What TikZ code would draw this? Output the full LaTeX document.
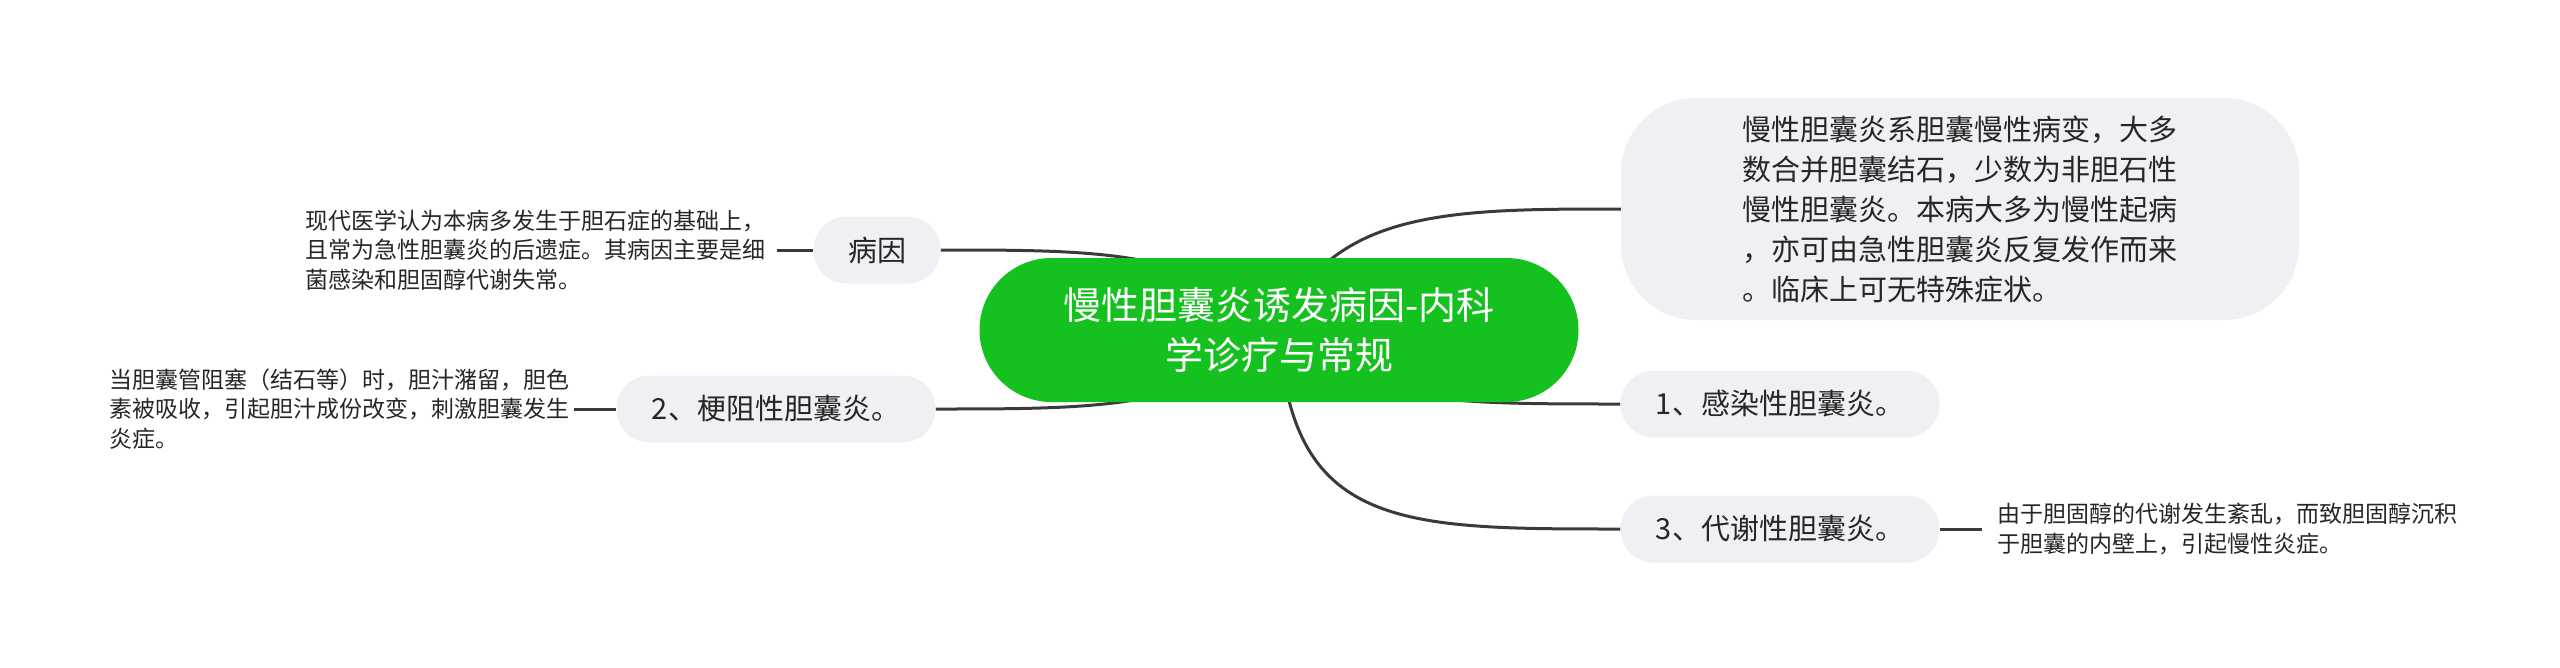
\documentclass[tikz,border=0pt]{standalone}
\usepackage{fontspec}
\setmainfont{Noto Sans CJK SC}
\usetikzlibrary{shapes.misc}
\pgfdeclarelayer{bg}
\pgfsetlayers{bg,main}
\definecolor{rootgreen}{HTML}{14C11E}
\definecolor{nodegray}{HTML}{EEF0F4}
\definecolor{linegray}{HTML}{3A3A3A}
\tikzset{
  rootbox/.style={fill=rootgreen, rounded corners=72pt, minimum width=599pt, minimum height=144pt,
    text=white, align=center, font=\fontsize{38}{50}\selectfont, inner sep=0pt},
  subbox/.style={fill=nodegray, rounded corners=33pt, minimum height=67pt, inner sep=0pt,
    text=black!85, font=\fontsize{29}{40}\selectfont},
  bigbox/.style={fill=nodegray, rounded corners=75pt, minimum width=678pt, minimum height=222pt,
    inner sep=0pt, text=black!85, align=left, font=\fontsize{29}{40}\selectfont},
  leaftext/.style={align=left, inner sep=0pt, text=black!85, font=\fontsize{23}{29.5}\selectfont},
  link/.style={draw=linegray, line width=3pt},
}
\begin{document}
\begin{tikzpicture}[x=1pt,y=-1pt]
\useasboundingbox (0,0) rectangle (2560,667);
% nodes
\node[rootbox] (root) at (1279,330) {慢性胆囊炎诱发病因-内科\\学诊疗与常规};
\node[subbox, minimum width=127pt] (bingyin) at (877,250) {病因};
\node[subbox, minimum width=319pt] (gengzu) at (776,409) {2、梗阻性胆囊炎。};
\node[bigbox] (desc) at (1960,209) {慢性胆囊炎系胆囊慢性病变，大多\\数合并胆囊结石，少数为非胆石性\\慢性胆囊炎。本病大多为慢性起病\\，亦可由急性胆囊炎反复发作而来\\。临床上可无特殊症状。};
\node[subbox, minimum width=319pt] (ganran) at (1780,404) {1、感染性胆囊炎。};
\node[subbox, minimum width=319pt] (daixie) at (1780,529) {3、代谢性胆囊炎。};
\node[leaftext, anchor=east] (t1) at (766,250) {现代医学认为本病多发生于胆石症的基础上，\\且常为急性胆囊炎的后遗症。其病因主要是细\\菌感染和胆固醇代谢失常。};
\node[leaftext, anchor=east] (t2) at (570,409) {当胆囊管阻塞（结石等）时，胆汁潴留，胆色\\素被吸收，引起胆汁成份改变，刺激胆囊发生\\炎症。};
\node[leaftext, anchor=west] (t3) at (1997,529) {由于胆固醇的代谢发生紊乱，而致胆固醇沉积\\于胆囊的内壁上，引起慢性炎症。};
% connectors
\begin{pgfonlayer}{bg}
\draw[link] (root.center) .. controls (1200,250) and (1100,250) .. (bingyin.east);
\draw[link] (root.center) .. controls (1200,409) and (1100,409) .. (gengzu.east);
\draw[link] (root.center) .. controls (1330,209) and (1450,209) .. (desc.west);
\draw[link] (root.center) .. controls (1350,404) and (1450,404) .. (ganran.west);
\draw[link] (root.center) .. controls (1290,529) and (1400,529) .. (daixie.west);
\draw[link] (bingyin.west) -- ++(-36,0) coordinate (e1);
\draw[link] (gengzu.west) -- (t2.east -| 574,0);
\draw[link] (daixie.east) -- ++(42,0) coordinate (e3);
\end{pgfonlayer}
\end{tikzpicture}
\end{document}
